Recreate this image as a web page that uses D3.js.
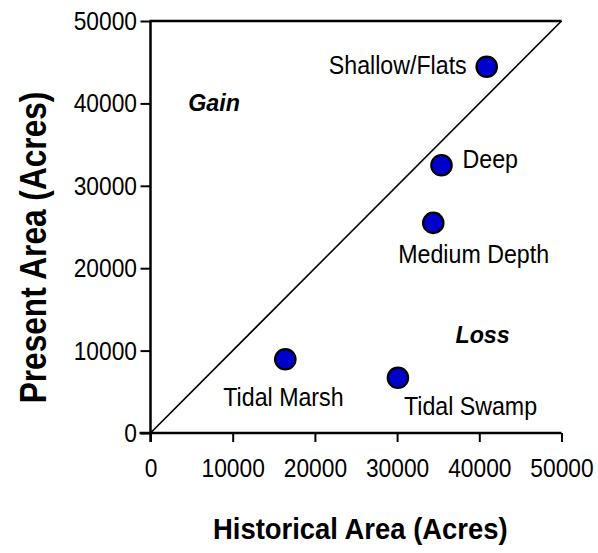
<!DOCTYPE html>
<html><head><meta charset="utf-8">
<script src="https://cdn.jsdelivr.net/npm/d3@7/dist/d3.min.js"></script>
<style>
body{margin:0;background:#fff;}
svg{display:block;font-family:"Liberation Sans",Arial,sans-serif;}
</style></head>
<body><svg id="c" width="598" height="553"></svg>
<script>
const categories = ["Shallow/Flats","Deep","Medium Depth","Tidal Marsh","Tidal Swamp"];
const historical = [40900, 35400, 34400, 16400, 30100];
const present    = [44450, 32500, 25500, 8950, 6700];
const xTicks = [0,10000,20000,30000,40000,50000];
const yTicks = [0,10000,20000,30000,40000,50000];
const regionLabels = ["Gain","Loss"];

// layout (not data)
const regionPos = {"Gain":[7725,39100],"Loss":[40400,10960]};
const labelPlace = {
  "Shallow/Flats":{anchor:"end",dx:-20,dy:7.5},
  "Deep":{anchor:"start",dx:21,dy:3},
  "Medium Depth":{anchor:"start",dx:-35,dy:40},
  "Tidal Marsh":{anchor:"start",dx:-62,dy:47},
  "Tidal Swamp":{anchor:"start",dx:6,dy:37}
};

const svg = d3.select("#c");
const L=150.5, R=561.5, T=21, B=433;
const x = d3.scaleLinear().domain([0,50000]).range([L,R]);
const y = d3.scaleLinear().domain([0,50000]).range([B,T]);

function txt(parent, px, py, s, o){
  const g = parent.append("g").attr("transform",`translate(${px},${py})${o.rot?` rotate(${o.rot})`:""}`);
  return g.append("text").attr("transform",`scale(${o.sx||1},1)`)
    .attr("text-anchor",o.anchor||"start")
    .attr("font-weight",o.weight||"normal").attr("font-style",o.style||"normal")
    .style("font-size",o.size+"px").attr("fill","#000").text(s);
}

// top border
svg.append("line").attr("x1",L-1).attr("x2",R).attr("y1",T).attr("y2",T)
  .attr("stroke","#000").attr("stroke-width",2.5);

const tickFont=26.5, tickSx=0.86;
const xa = svg.append("g").attr("transform",`translate(0,${B})`)
  .call(d3.axisBottom(x).tickValues(xTicks).tickFormat(d3.format("d")).tickSize(9).tickSizeOuter(0).tickPadding(16));
const ya = svg.append("g").attr("transform",`translate(${L},0)`)
  .call(d3.axisLeft(y).tickValues(yTicks).tickFormat(d3.format("d")).tickSize(10).tickSizeOuter(0).tickPadding(3.5));
[xa,ya].forEach(a=>{
  a.attr("font-family",null).attr("font-size",null);
  a.select(".domain").attr("stroke","#000").attr("stroke-width",2.5);
  a.selectAll(".tick line").attr("stroke","#000").attr("stroke-width",2);
  a.selectAll(".tick text").attr("fill","#000").style("font-size",tickFont+"px")
    .attr("transform",`scale(${tickSx},1)`);
});
ya.selectAll(".tick text").attr("x",-13.5/tickSx);
xa.select(".domain").attr("d",`M${L-11},0H${R}`);
ya.select(".domain").attr("d",`M0,${T}V${B+9}`);

// diagonal
svg.append("line").attr("x1",x(0)).attr("y1",y(0)).attr("x2",x(50000)).attr("y2",y(50000))
  .attr("stroke","#000").attr("stroke-width",1.6);

// points
const pts = categories.map((c,i)=>({c,h:historical[i],p:present[i]}));
svg.selectAll("circle.pt").data(pts).enter().append("circle").attr("class","pt")
  .attr("cx",d=>x(d.h)).attr("cy",d=>y(d.p)).attr("r",10.2)
  .attr("fill","#0000cc").attr("stroke","#000").attr("stroke-width",2.2);

pts.forEach(d=>{
  const lp = labelPlace[d.c];
  txt(svg, x(d.h)+lp.dx, y(d.p)+lp.dy, d.c, {size:25.5, sx:0.91, anchor:lp.anchor});
});

// region labels
regionLabels.forEach(r=>{
  txt(svg, x(regionPos[r][0]), y(regionPos[r][1]), r, {size:24.5, sx:0.95, anchor:"middle", weight:"bold", style:"italic"});
});

// axis titles
txt(svg, 213, 539, "Historical Area (Acres)", {size:29.5, sx:0.93, anchor:"start", weight:"bold"});
txt(svg, 46, 247.5, "Present Area (Acres)", {size:37, sx:0.855, anchor:"middle", weight:"bold", rot:-90});
</script></body></html>
